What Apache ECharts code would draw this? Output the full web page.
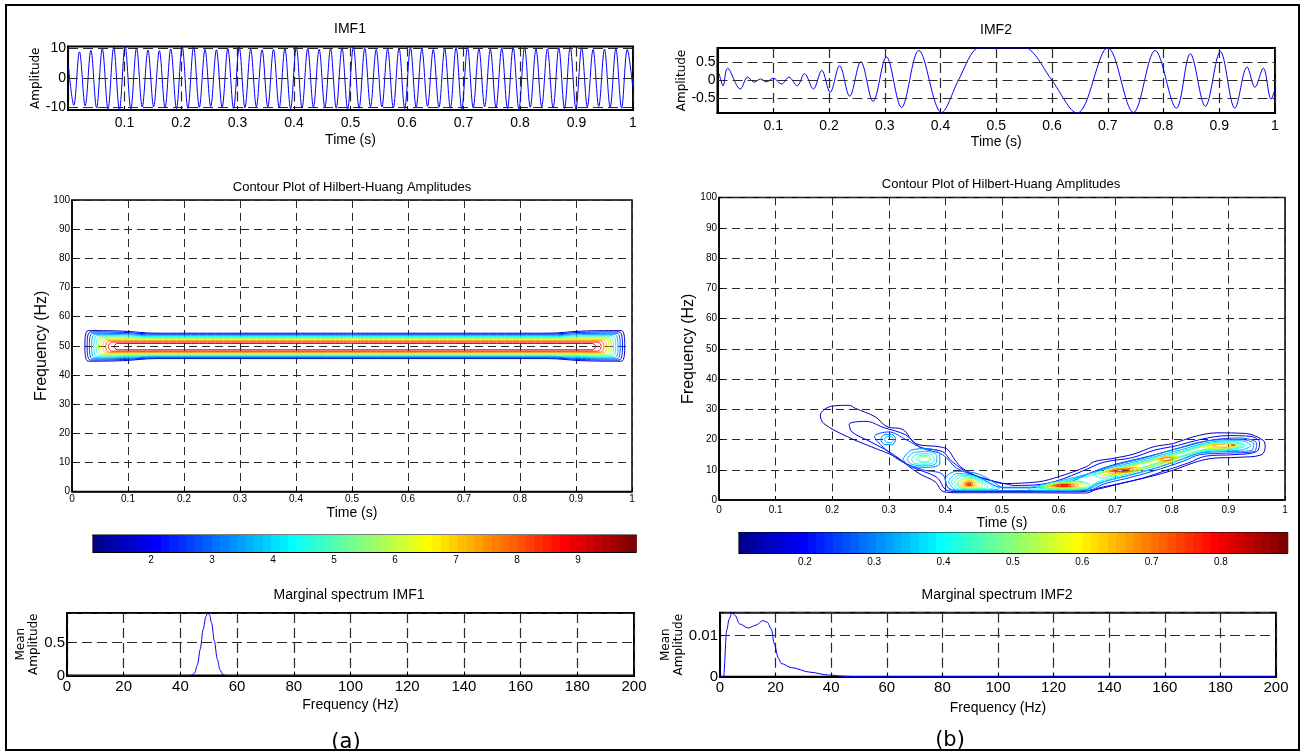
<!DOCTYPE html>
<html>
<head>
<meta charset="utf-8">
<title>HHT of IMF1 / IMF2</title>
<script src="https://cdn.jsdelivr.net/npm/echarts@6.0.0/dist/echarts.min.js"></script>
<style>
html,body{margin:0;padding:0;background:#ffffff;}
#chart{width:1304px;height:754px;}
</style>
</head>
<body>
<div id="chart"></div>
<script>
// ===================== DATA =====================
// IMF1 (time in s, amplitude): start point, regular spacing of extrema, extrema amplitudes
const imf1Start = [0.001, 3.5];
const imf1FirstExtremumTime = 0.0102;
const imf1HalfPeriod = 0.0101;
const imf1Extrema = [
  -9.3, 8.8, -9.5, 9.3, -10.2, 9.9, -10.6, 10.4, -10.8, 10.8,
  -10.5, 10.1, -9.9, 9.4, -9.8, 9.2, -10.1, 9.8, -10.4, 10.6,
  -10.3, 10.5, -10.0, 9.6, -9.7, 9.5, -10.0, 9.9, -10.4, 10.3,
  -10.1, 9.7, -9.8, 9.5, -9.9, 9.6, -10.2, 10.0, -10.5, 10.4,
  -10.2, 9.9, -9.9, 9.7, -10.0, 9.8, -10.3, 10.2, -10.6, 10.5,
  -10.3, 10.0, -9.8, 9.6, -9.9, 9.8, -10.2, 10.1, -10.4, 10.3,
  -10.0, 9.8, -9.7, 9.6, -10.0, 9.9, -10.3, 10.2, -10.5, 10.4,
  -10.1, 9.8, -9.8, 9.7, -10.1, 10.0, -10.4, 10.3, -10.6, 10.2,
  -10.0, 9.7, -9.8, 9.8, -10.2, 10.1, -10.4, 10.4, -10.5, 10.2,
  -9.9, 9.6, -9.7, 9.7, -10.0, 9.8, -10.3, 9.6
];
const imf1End = [0.9995, -3.0];

// IMF2 [time (s), amplitude]
const imf2Points = [
  [0.003,0.19],[0.010,-0.15],[0.018,0.34],[0.041,-0.24],[0.054,0.09],[0.066,-0.05],
  [0.077,0.04],[0.088,-0.04],[0.100,0.06],[0.115,-0.10],[0.128,0.09],[0.143,-0.15],
  [0.156,0.19],[0.172,-0.24],[0.187,0.28],[0.202,-0.33],[0.219,0.41],[0.237,-0.44],
  [0.257,0.52],[0.279,-0.58],[0.303,0.65],[0.330,-0.75],[0.361,0.83],[0.402,-0.89],
  [0.432,0.0],[0.462,0.86],[0.476,0.905],[0.545,0.905],[0.560,0.86],[0.600,0.0],
  [0.645,-0.905],[0.700,0.905],[0.746,-0.89],[0.785,0.83],[0.823,-0.77],[0.848,0.74],
  [0.875,-0.72],[0.902,0.80],[0.928,-0.77],[0.950,0.37],[0.964,-0.19],[0.979,0.34],
  [0.993,-0.52],[1.000,-0.24]
];

// Marginal spectra [frequency (Hz), mean amplitude]
const marg1Points = [
  [0,0],[43,0],[44,0.005],[45,0.04],[46,0.16],[47,0.40],[48,0.70],[49,0.90],[49.6,0.95],
  [50.3,0.92],[51,0.80],[52,0.52],[53,0.25],[54,0.08],[55,0.015],[56,0],[200,0]
];
const marg2Points = [
  [0,0],[1.3,0],[2.4,0.0112],[3.3,0.0140],[4.3,0.0155],[5.5,0.0148],[7,0.0128],[10.2,0.0118],
  [13,0.0125],[15.4,0.0136],[17,0.0132],[18.5,0.0115],[19.5,0.0080],[21,0.0045],[22,0.0032],
  [25.7,0.0022],[32.3,0.0011],[39,0.0004],[45,0.0001],[50,0],[200,0]
];

// Hilbert-Huang amplitude contours, IMF1 (nested bands around 50 Hz)
const hhaLevels  = [1.5, 2.2, 2.9, 3.6, 4.3, 5.0, 5.7, 6.4, 7.1, 7.8, 8.5, 9.2];
const hhaTStart  = [0.023,0.027,0.031,0.035,0.039,0.043,0.047,0.051,0.055,0.060,0.065,0.075];
const hhaTEnd    = [0.987,0.983,0.979,0.975,0.971,0.967,0.963,0.959,0.955,0.950,0.945,0.935];
const hhaFLow    = [45.6,45.85,46.1,46.35,46.6,46.85,47.1,47.35,47.6,47.85,48.15,48.6];
const hhaFHigh   = [54.3,54.0,53.7,53.4,53.1,52.8,52.5,52.2,51.9,51.6,51.25,50.8];
const hhaEndBulge= [0.9,0.75,0.6,0.5,0.4,0.3,0.2,0.15,0.1,0.05,0,0];

// Hilbert-Huang amplitude contours, IMF2: loops [time, freq] per level
const hhb015 = [[
  [0.5,5.4],[0.564,6],[0.6,7.7],[0.649,11],[0.663,12.7],[0.698,13.8],[0.733,15.2],[0.768,17.6],[0.803,18.7],
  [0.838,20.9],[0.88,22.2],[0.93,22],[0.961,19.8],[0.965,17.6],[0.958,14.9],[0.916,14.1],[0.873,13.8],
  [0.845,12.7],[0.803,9.9],[0.761,7.7],[0.705,5.3],[0.67,3.9],[0.649,2.3],[0.529,2.4],[0.424,2.4],
  [0.396,2.8],[0.382,6],[0.353,8.8],[0.311,14.3],[0.269,17.6],[0.227,20.9],[0.185,25.3],[0.179,28.1],
  [0.199,31],[0.23,31.3],[0.241,30.3],[0.276,27.5],[0.297,24.2],[0.325,23.3],[0.347,18.7],[0.389,17.6],
  [0.404,16.7],[0.417,13.2],[0.43,10.5],[0.459,7.7],[0.5,5.4]
]];
const hhb020 = [[
  [0.52,4.8],[0.56,5],[0.6,6.5],[0.645,9.8],[0.68,12.5],[0.73,14],[0.77,16.5],[0.81,18],[0.85,20],
  [0.9,21.3],[0.94,21],[0.955,19],[0.95,16],[0.91,15],[0.86,14.5],[0.83,12.3],[0.79,9.8],[0.75,7.3],
  [0.7,5],[0.66,3.2],[0.63,2.7],[0.53,2.8],[0.42,2.8],[0.4,3.5],[0.385,7.5],[0.34,11],[0.3,16],
  [0.265,19.5],[0.235,22.5],[0.23,25],[0.26,26],[0.29,24],[0.33,21.5],[0.355,17.5],[0.395,16],
  [0.41,13],[0.44,9],[0.48,6.5],[0.52,4.8]
]];
const hhb025 = [[
  [0.53,4.2],[0.56,4.2],[0.62,6],[0.66,9.3],[0.7,11.8],[0.76,14.5],[0.82,17.5],[0.87,19.8],[0.92,20.5],
  [0.95,18.7],[0.945,16],[0.9,15.5],[0.85,15],[0.82,12.8],[0.78,10.3],[0.73,7.6],[0.68,5.3],[0.655,3.3],
  [0.6,3],[0.52,3],[0.43,3],[0.405,4],[0.395,8.5],[0.36,10],[0.32,13],[0.29,17.5],[0.275,21],[0.3,22.5],
  [0.33,20],[0.36,17],[0.395,15],[0.42,10.5],[0.46,7.5],[0.5,4.2],[0.53,4.2]
]];
const hhb030 = [
  [[0.285,20],[0.293,21.7],[0.305,21.7],[0.312,20],[0.305,18.3],[0.293,18.3],[0.285,20]],
  [[0.325,13.5],[0.34,16.5],[0.37,17],[0.39,15],[0.39,12],[0.37,10.8],[0.34,11],[0.325,13.5]],
  [[0.5,4],[0.55,4],[0.6,5.5],[0.65,8.5],[0.7,11.5],[0.75,13.8],[0.8,16.5],[0.86,19.5],[0.92,20],
   [0.945,18.5],[0.94,16.3],[0.9,16],[0.85,15.5],[0.81,13],[0.77,10.5],[0.72,8],[0.67,5.5],[0.645,3.3],
   [0.6,3.1],[0.53,3.1],[0.45,3.1],[0.41,3.3],[0.4,7],[0.42,9.5],[0.46,8.5],[0.5,4]]
];
const hhb035 = [
  [[0.292,20],[0.297,21],[0.304,21],[0.308,20],[0.304,19],[0.297,19],[0.292,20]],
  [[0.332,13.5],[0.345,15.8],[0.37,16],[0.385,14.5],[0.383,12],[0.365,11.3],[0.34,11.8],[0.332,13.5]],
  [[0.405,6],[0.42,8.8],[0.45,8],[0.48,5.5],[0.495,3.8],[0.47,3.3],[0.42,3.3],[0.405,6]],
  [[0.545,4],[0.6,6.2],[0.65,8.5],[0.7,11],[0.76,13.8],[0.82,16.8],[0.87,19.2],[0.92,19.6],[0.94,18],
   [0.92,16.5],[0.86,16],[0.82,13.5],[0.78,11],[0.73,8.3],[0.68,6],[0.65,3.5],[0.6,3.2],[0.55,3.3],[0.545,4]]
];
const hhb040 = [
  [[0.34,13.5],[0.35,15.2],[0.37,15.3],[0.38,14],[0.378,12.3],[0.36,11.8],[0.345,12.2],[0.34,13.5]],
  [[0.41,6],[0.425,8.3],[0.45,7.6],[0.475,5.5],[0.485,4],[0.465,3.5],[0.425,3.5],[0.41,6]],
  [[0.56,4],[0.6,5.8],[0.66,8.3],[0.7,10.5],[0.76,13.3],[0.82,16.3],[0.87,18.8],[0.91,19.2],[0.93,18],
   [0.91,16.8],[0.86,16.3],[0.81,13.8],[0.77,11.3],[0.72,8.5],[0.67,6],[0.645,3.7],[0.6,3.4],[0.56,4]]
];
const hhb045 = [
  [[0.348,13.5],[0.355,14.7],[0.368,14.8],[0.375,13.8],[0.372,12.6],[0.358,12.4],[0.348,13.5]],
  [[0.415,6],[0.43,7.8],[0.45,7.2],[0.47,5.3],[0.475,4.2],[0.455,3.7],[0.43,3.8],[0.415,6]],
  [[0.565,4.3],[0.59,5.8],[0.63,6.3],[0.655,5],[0.65,3.9],[0.6,3.6],[0.565,4.3]],
  [[0.66,8.5],[0.7,10.3],[0.76,13],[0.82,16],[0.87,18.5],[0.91,18.8],[0.925,18],[0.905,17],[0.86,16.6],
   [0.81,14],[0.76,11.3],[0.71,8.6],[0.675,7.3],[0.66,8.5]]
];
const hhb050 = [
  [[0.352,13.5],[0.358,14.4],[0.367,14.4],[0.372,13.6],[0.368,12.8],[0.358,12.8],[0.352,13.5]],
  [[0.42,5.8],[0.435,7.3],[0.452,6.8],[0.465,5.2],[0.465,4.3],[0.45,3.9],[0.43,4.1],[0.42,5.8]],
  [[0.57,4.4],[0.595,5.6],[0.63,6],[0.65,5],[0.645,4],[0.6,3.8],[0.57,4.4]],
  [[0.67,8.8],[0.71,10.4],[0.76,12.8],[0.82,15.7],[0.87,18.3],[0.905,18.6],[0.92,18],[0.9,17.2],
   [0.86,16.8],[0.81,14.2],[0.76,11.5],[0.71,8.8],[0.68,8],[0.67,8.8]]
];
const hhb055 = [
  [[0.423,5.6],[0.437,6.9],[0.45,6.5],[0.46,5.1],[0.458,4.4],[0.445,4.1],[0.43,4.3],[0.423,5.6]],
  [[0.575,4.5],[0.6,5.5],[0.628,5.7],[0.645,4.9],[0.64,4.1],[0.6,3.95],[0.575,4.5]],
  [[0.675,9.2],[0.71,10.6],[0.76,12.6],[0.8,14.6],[0.815,14],[0.8,12.6],[0.75,10.6],[0.71,8.5],[0.685,8.3],[0.675,9.2]],
  [[0.85,17.6],[0.88,18.6],[0.91,18.6],[0.915,18],[0.9,17.4],[0.87,17],[0.85,17.6]]
];
const hhb060 = [
  [[0.427,5.4],[0.44,6.6],[0.45,6.2],[0.455,5],[0.45,4.5],[0.44,4.3],[0.43,4.5],[0.427,5.4]],
  [[0.58,4.6],[0.6,5.3],[0.625,5.5],[0.64,4.9],[0.635,4.2],[0.6,4.1],[0.58,4.6]],
  [[0.68,9.4],[0.7,10.4],[0.74,11],[0.745,10],[0.72,9],[0.69,8.6],[0.68,9.4]],
  [[0.77,13.4],[0.79,14.4],[0.81,14.2],[0.805,13],[0.785,12.5],[0.77,13.4]],
  [[0.86,17.8],[0.885,18.7],[0.91,18.6],[0.91,17.7],[0.885,17.2],[0.86,17.8]]
];
const hhb065 = [
  [[0.43,5.3],[0.44,6.3],[0.45,5.9],[0.452,5],[0.445,4.6],[0.435,4.6],[0.43,5.3]],
  [[0.585,4.7],[0.605,5.3],[0.625,5.3],[0.635,4.8],[0.625,4.3],[0.6,4.3],[0.585,4.7]],
  [[0.685,9.4],[0.7,10.2],[0.735,10.7],[0.74,9.9],[0.715,9.1],[0.695,8.8],[0.685,9.4]],
  [[0.775,13.4],[0.79,14.2],[0.805,14],[0.8,13.1],[0.785,12.8],[0.775,13.4]],
  [[0.87,18],[0.89,18.5],[0.905,18.4],[0.905,17.8],[0.885,17.5],[0.87,18]]
];
const hhb070 = [
  [[0.433,5.2],[0.44,5.9],[0.448,5.6],[0.448,4.9],[0.44,4.7],[0.433,5.2]],
  [[0.59,4.8],[0.605,5.2],[0.62,5.2],[0.628,4.8],[0.62,4.4],[0.6,4.4],[0.59,4.8]],
  [[0.69,9.5],[0.705,10.1],[0.73,10.4],[0.732,9.8],[0.71,9.2],[0.69,9.5]],
  [[0.78,13.5],[0.792,14],[0.8,13.8],[0.796,13.2],[0.785,13.1],[0.78,13.5]]
];
const hhb075 = [
  [[0.436,5.2],[0.441,5.6],[0.446,5.4],[0.445,4.9],[0.44,4.85],[0.436,5.2]],
  [[0.595,4.8],[0.607,5.1],[0.618,5.1],[0.622,4.8],[0.615,4.5],[0.6,4.5],[0.595,4.8]],
  [[0.695,9.6],[0.71,10],[0.725,10.1],[0.722,9.6],[0.705,9.4],[0.695,9.6]],
  [[0.905,18.2],[0.91,18.3],[0.912,18.1],[0.907,18],[0.905,18.2]]
];
const hhb080 = [
  [[0.439,5.2],[0.442,5.4],[0.445,5.2],[0.442,5],[0.439,5.2]],
  [[0.603,4.8],[0.61,5],[0.617,4.9],[0.613,4.7],[0.605,4.65],[0.603,4.8]]
];
const hhbLevels = [0.15,0.20,0.25,0.30,0.35,0.40,0.45,0.50,0.55,0.60,0.65,0.70,0.75,0.80];
const hhbLoops  = [hhb015,hhb020,hhb025,hhb030,hhb035,hhb040,hhb045,hhb050,hhb055,hhb060,hhb065,hhb070,hhb075,hhb080];

// Colour scale ranges and tick labels
const cbarARange = [1.05, 9.95];
const cbarBRange = [0.105, 0.896];
const cbarATicks = [2,3,4,5,6,7,8,9];
const cbarBTicks = [0.2,0.3,0.4,0.5,0.6,0.7,0.8];
const imf1YTicks = [-10,0,10];
const imf2YTicks = [-0.5,0,0.5];

// ===================== HELPERS =====================
const FONT = '"Liberation Sans", Arial, Helvetica, sans-serif';
const FONT2 = '"DejaVu Sans", Verdana, sans-serif';

// MATLAB jet(64)
const JET = (function(){
  const n=64,n4=16,u=[];
  for(let i=1;i<=n4;i++)u.push(i/n4);
  for(let i=1;i<n4;i++)u.push(1);
  for(let i=n4;i>=1;i--)u.push(i/n4);
  const R=new Array(n).fill(0),G=new Array(n).fill(0),B=new Array(n).fill(0);
  const g0=Math.ceil(n4/2);
  for(let k=0;k<u.length;k++){
    const gi=g0+k+1, ri=gi+n4, bi=gi-n4;
    if(ri>=1&&ri<=n)R[ri-1]=u[k];
    if(gi>=1&&gi<=n)G[gi-1]=u[k];
    if(bi>=1&&bi<=n)B[bi-1]=u[k];
  }
  const out=[];
  for(let i=0;i<n;i++)out.push('rgb('+Math.round(R[i]*255)+','+Math.round(G[i]*255)+','+Math.round(B[i]*255)+')');
  return out;
})();
function jetColor(v, range){
  let i=Math.floor((v-range[0])/(range[1]-range[0])*64);
  i=Math.max(0,Math.min(63,i));
  return JET[i];
}
function fmtStep(step, hide){
  return function(v){
    const k=Math.round(v/step);
    if(Math.abs(k*step-v)>step*1e-6)return '';
    const val=parseFloat((k*step).toFixed(6));
    if(hide && hide.indexOf(val)>=0)return '';
    return String(val);
  };
}
function dashStyle(w,d){ return {show:true, lineStyle:{color:'#2a2a2a', type:d||[8,5], width:w||1}}; }
function valAxis(o){
  const lw=o.lw||1;
  const ax = {
    type:'value', gridIndex:o.grid, min:o.min, max:o.max,
    position:o.position,
    axisLine:{show:true,onZero:false,lineStyle:{color:'#000',width:lw}},
    axisTick:{show:o.tick!==false,inside:true,length:4,lineStyle:{color:'#000',width:1}},
    splitLine:o.split===false?{show:false}:dashStyle(o.dw,o.dash),
    axisLabel:{show:o.label!==false,color:'#000',fontFamily:FONT,fontSize:o.fs||13,margin:o.margin==null?4:o.margin,
      formatter:o.fmt, showMinLabel:true, showMaxLabel:true, hideOverlap:false},
    name:o.name||'', nameLocation:'middle', nameGap:o.nameGap||20,
    nameTextStyle:{color:'#000',fontFamily:o.nameFont||FONT,fontSize:o.nameSize||14,lineHeight:o.nameLH||undefined}
  };
  if(o.interval!=null)ax.interval=o.interval;
  if(o.custom){ax.axisLabel.customValues=o.custom; ax.axisTick.customValues=o.custom;}
  return ax;
}

// ===================== SERIES BUILD =====================
const imf1Data=[imf1Start].concat(imf1Extrema.map((v,i)=>[imf1FirstExtremumTime+i*imf1HalfPeriod,v])).concat([imf1End]);

function hhaLoop(i){
  const lo=hhaFLow[i],hi=hhaFHigh[i],b=hhaEndBulge[i],tS=hhaTStart[i],tE=hhaTEnd[i],m=(lo+hi)/2;
  return [[0.5,hi],[0.85,hi],[0.91,hi+b*0.8],[tE-0.006,hi+b],[tE,m],[tE-0.006,lo-b],[0.91,lo-b*0.8],[0.85,lo],
          [0.5,lo],[0.15,lo],[0.09,lo-b*0.8],[tS+0.006,lo-b],[tS,m],[tS+0.006,hi+b],[0.09,hi+b*0.8],[0.15,hi],[0.5,hi]];
}
function contourSeries(pts,color,gi){
  return {type:'line',xAxisIndex:gi,yAxisIndex:gi,data:pts,smooth:0.35,symbol:'none',showSymbol:false,
    silent:true,animation:false,z:3,lineStyle:{color:color,width:1}};
}
function gridMark(vals){
  return {silent:true,symbol:['none','none'],label:{show:false},animation:false,
    lineStyle:{color:'#2a2a2a',type:[10,5],width:1.2},data:vals.map(v=>({yAxis:v}))};
}
function cbarData(range){
  const d=[];
  for(let i=0;i<64;i++)d.push([range[0]+(range[1]-range[0])*i/64, range[0]+(range[1]-range[0])*(i+1)/64, i]);
  return d;
}
function cbarSeries(gi,range){
  return {type:'custom',xAxisIndex:gi,yAxisIndex:gi,data:cbarData(range),silent:true,animation:false,z:1,
    renderItem:function(params,api){
      const a=api.coord([api.value(0),0]), b=api.coord([api.value(1),1]);
      return {type:'rect',shape:{x:a[0],y:b[1],width:b[0]-a[0]+0.7,height:a[1]-b[1]},style:{fill:JET[api.value(2)]}};
    }};
}

const series=[];
series.push({type:'line',xAxisIndex:0,yAxisIndex:0,data:imf1Data,smooth:0.35,symbol:'none',showSymbol:false,
  animation:false,z:3,lineStyle:{color:'#0000ff',width:1},markLine:gridMark(imf1YTicks)});
series.push({type:'line',xAxisIndex:1,yAxisIndex:1,data:imf2Points,smooth:0.35,symbol:'none',showSymbol:false,
  animation:false,z:3,lineStyle:{color:'#0000ff',width:1},markLine:gridMark(imf2YTicks)});
for(let i=0;i<hhaLevels.length;i++) series.push(contourSeries(hhaLoop(i),jetColor(hhaLevels[i],cbarARange),2));
for(let i=0;i<hhbLevels.length;i++) hhbLoops[i].forEach(l=>series.push(contourSeries(l,jetColor(hhbLevels[i],cbarBRange),3)));
series.push(cbarSeries(4,cbarARange));
series.push(cbarSeries(5,cbarBRange));
series.push({type:'line',xAxisIndex:6,yAxisIndex:6,data:marg1Points,smooth:0.3,smoothMonotone:'x',symbol:'none',
  showSymbol:false,animation:false,z:3,lineStyle:{color:'#0000ff',width:1}});
series.push({type:'line',xAxisIndex:7,yAxisIndex:7,data:marg2Points,smooth:0.3,smoothMonotone:'x',symbol:'none',
  showSymbol:false,animation:false,z:3,lineStyle:{color:'#0000ff',width:1}});

// ===================== OPTION =====================
const grids=[
  {left:68,top:46.5,width:565,height:63.5,borderWidth:2},
  {left:717.5,top:48,width:557.5,height:65,borderWidth:2},
  {left:72,top:200,width:560,height:291.5,borderWidth:1.5},
  {left:719,top:197.5,width:566,height:302.5,borderWidth:1.5},
  {left:93,top:535,width:543,height:17,borderWidth:1.2},
  {left:739,top:532.5,width:548.5,height:20.5,borderWidth:1.2},
  {left:67,top:613,width:567,height:62.5,borderWidth:2},
  {left:720,top:612.7,width:556,height:64,borderWidth:2}
].map(g=>Object.assign({show:true,borderColor:'#000',backgroundColor:'transparent',containLabel:false},g));

const TOPDASH=[10,5];
const xAxes=[
  valAxis({grid:0,min:0,max:1,interval:0.1,fs:14,margin:6,fmt:fmtStep(0.1,[0]),name:'Time (s)',nameGap:23,lw:2,dw:1.2,dash:TOPDASH}),
  valAxis({grid:1,min:0,max:1,interval:0.1,fs:14,margin:6,fmt:fmtStep(0.1,[0]),name:'Time (s)',nameGap:22,lw:2,dw:1.2,dash:TOPDASH}),
  valAxis({grid:2,min:0,max:1,interval:0.1,fs:10,margin:3,fmt:fmtStep(0.1),name:'Time (s)',nameGap:15,lw:1.5}),
  valAxis({grid:3,min:0,max:1,interval:0.1,fs:10,margin:5,fmt:fmtStep(0.1),name:'Time (s)',nameGap:16,lw:1.5}),
  valAxis({grid:4,min:cbarARange[0],max:cbarARange[1],fs:10,margin:3,split:false,custom:cbarATicks,fmt:v=>String(v),lw:1.2}),
  valAxis({grid:5,min:cbarBRange[0],max:cbarBRange[1],fs:10,margin:4,split:false,custom:cbarBTicks,fmt:v=>String(v),lw:1.2}),
  valAxis({grid:6,min:0,max:200,interval:20,fs:15,margin:4,fmt:fmtStep(20),name:'Frequency (Hz)',nameGap:23,lw:2,dw:1.2,dash:TOPDASH}),
  valAxis({grid:7,min:0,max:200,interval:20,fs:15,margin:4,fmt:fmtStep(20),name:'Frequency (Hz)',nameGap:24,lw:2,dw:1.2,dash:TOPDASH}),
  valAxis({grid:4,min:cbarARange[0],max:cbarARange[1],position:'top',label:false,split:false,custom:cbarATicks,lw:1.2}),
  valAxis({grid:5,min:cbarBRange[0],max:cbarBRange[1],position:'top',label:false,split:false,custom:cbarBTicks,lw:1.2})
];
const yAxes=[
  valAxis({grid:0,min:-10.9,max:10.6,fs:14,margin:2,split:false,custom:imf1YTicks,fmt:v=>String(v),
    name:'Amplitude',nameGap:22,nameFont:FONT2,nameSize:12,lw:2}),
  valAxis({grid:1,min:-0.905,max:0.9,fs:14,margin:2,split:false,custom:imf2YTicks,fmt:v=>String(v),
    name:'Amplitude',nameGap:27,nameFont:FONT2,nameSize:12,lw:2}),
  valAxis({grid:2,min:0,max:100,interval:10,fs:10,margin:2,fmt:fmtStep(10),name:'Frequency (Hz)',nameGap:13,nameSize:16,lw:1.5}),
  valAxis({grid:3,min:0,max:100,interval:10,fs:10,margin:2,fmt:fmtStep(10),name:'Frequency (Hz)',nameGap:13,nameSize:16,lw:1.5}),
  {type:'value',gridIndex:4,min:0,max:1,show:false},
  {type:'value',gridIndex:5,min:0,max:1,show:false},
  valAxis({grid:6,min:0,max:0.953,interval:0.5,fs:15,margin:2,fmt:fmtStep(0.5),
    name:'Mean\nAmplitude',nameGap:16,nameFont:FONT2,nameSize:12,nameLH:13,lw:2,dw:1.2,dash:TOPDASH}),
  valAxis({grid:7,min:0,max:0.0155,interval:0.01,fs:15,margin:2,fmt:fmtStep(0.01),
    name:'Mean\nAmplitude',nameGap:16,nameFont:FONT2,nameSize:12,nameLH:13,lw:2,dw:1.2,dash:TOPDASH})
];

function txt(s,x,y,size,font){
  return {type:'text',x:x,y:y,silent:true,z:10,
    style:{text:s,fill:'#000',font:size+'px '+(font||FONT),align:'center',verticalAlign:'middle',textAlign:'center',textVerticalAlign:'middle'}};
}
const graphics=[
  {type:'rect',silent:true,z:10,shape:{x:6,y:5,width:1293,height:745},style:{fill:'none',stroke:'#000',lineWidth:2}},
  txt('IMF1',350,29,14),
  txt('IMF2',996,30,14),
  txt('Contour Plot of Hilbert-Huang Amplitudes',352,187,13),
  txt('Contour Plot of Hilbert-Huang Amplitudes',1001,184,13),
  txt('Marginal spectrum IMF1',349,595,14),
  txt('Marginal spectrum IMF2',997,595,14),
  txt('(a)',346,743,21,FONT2),
  txt('(b)',950,741,21,FONT2)
];

const chart=echarts.init(document.getElementById('chart'),null,{renderer:'canvas',width:1304,height:754});
chart.setOption({
  animation:false,
  backgroundColor:'#ffffff',
  grid:grids,
  xAxis:xAxes,
  yAxis:yAxes,
  series:series,
  graphic:graphics
});
</script>
</body>
</html>
